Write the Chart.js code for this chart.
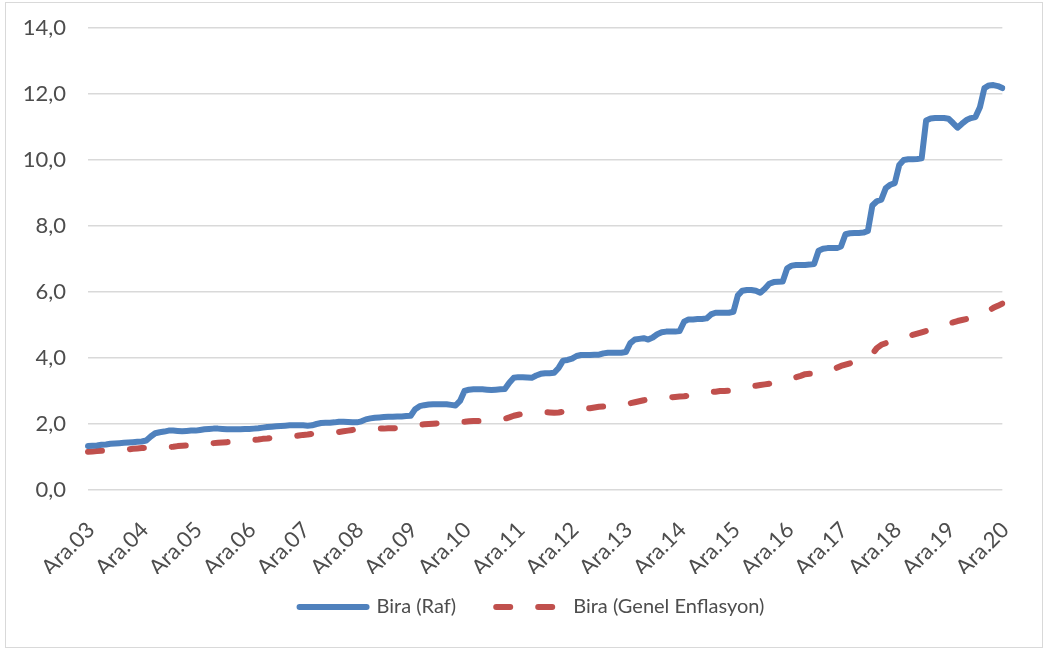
<!DOCTYPE html>
<html>
<head>
<meta charset="utf-8">
<script src="https://cdn.jsdelivr.net/npm/chart.js@4"></script>
<style>
  html, body { margin: 0; padding: 0; background: #fff; }
  #wrap { position: relative; width: 1048px; height: 650px; }
  #frame { position: absolute; left: 5px; top: 2px; width: 1036px; height: 644px; border: 1px solid #d9d9d9; }
  canvas { position: absolute; left: 0; top: 0; }
</style>
</head>
<body>
<div id="wrap">
  <div id="frame"></div>
  <canvas id="c" width="1048" height="650"></canvas>
</div>
<script>
// Month names (Turkish) and the tick labels of the monthly series (Ara.03 .. Ara.20)
const monthNames = ['Oca','Şub','Mar','Nis','May','Haz','Tem','Ağu','Eyl','Eki','Kas','Ara'];
const tickLabels = ['Ara.03','Ara.04','Ara.05','Ara.06','Ara.07','Ara.08','Ara.09','Ara.10','Ara.11',
                    'Ara.12','Ara.13','Ara.14','Ara.15','Ara.16','Ara.17','Ara.18','Ara.19','Ara.20'];

// Bira (Raf) — monthly, Dec 2003 .. Dec 2020
const biraRaf = [
  1.33,1.34,1.35,1.37,1.38,1.40,1.41,1.42,1.43,1.44,1.45,1.46,1.47,
  1.50,1.62,1.72,1.75,1.77,1.80,1.80,1.79,1.78,1.79,1.80,1.80,
  1.82,1.84,1.85,1.86,1.86,1.85,1.84,1.84,1.84,1.84,1.85,1.85,
  1.86,1.87,1.89,1.91,1.92,1.93,1.94,1.95,1.96,1.96,1.96,1.96,
  1.95,1.96,2.00,2.03,2.04,2.04,2.05,2.07,2.07,2.06,2.05,2.05,
  2.08,2.14,2.17,2.19,2.20,2.21,2.22,2.22,2.23,2.23,2.24,2.25,
  2.45,2.54,2.57,2.59,2.60,2.60,2.60,2.60,2.58,2.56,2.70,3.00,
  3.04,3.05,3.05,3.05,3.04,3.03,3.04,3.05,3.06,3.25,3.40,3.42,
  3.42,3.41,3.40,3.47,3.52,3.54,3.54,3.55,3.70,3.92,3.94,3.98,
  4.06,4.09,4.09,4.09,4.10,4.10,4.14,4.16,4.16,4.16,4.16,4.18,
  4.45,4.56,4.58,4.60,4.56,4.62,4.72,4.78,4.80,4.80,4.80,4.82,
  5.10,5.17,5.17,5.18,5.18,5.20,5.32,5.37,5.37,5.37,5.37,5.40,
  5.90,6.04,6.06,6.06,6.04,5.98,6.10,6.25,6.30,6.31,6.32,6.72,
  6.80,6.82,6.82,6.82,6.83,6.85,7.25,7.31,7.33,7.33,7.33,7.38,
  7.75,7.78,7.79,7.79,7.80,7.85,8.62,8.75,8.80,9.15,9.25,9.30,
  9.85,10.00,10.02,10.02,10.03,10.05,11.20,11.26,11.27,11.27,11.27,11.25,
  11.12,10.98,11.10,11.21,11.27,11.30,11.60,12.18,12.26,12.27,12.24,12.18
];

// Bira (Genel Enflasyon) — monthly, Dec 2003 .. Dec 2020
const biraEnflasyon = [
  1.16,1.17,1.18,1.19,1.19,1.20,1.21,1.22,1.22,1.23,1.25,1.26,1.27,
  1.28,1.28,1.29,1.29,1.29,1.30,1.31,1.33,1.34,1.35,1.36,1.37,
  1.38,1.39,1.41,1.42,1.43,1.44,1.45,1.46,1.47,1.48,1.49,1.51,
  1.52,1.53,1.55,1.56,1.58,1.59,1.60,1.61,1.62,1.63,1.65,1.67,
  1.68,1.70,1.71,1.72,1.73,1.74,1.75,1.76,1.78,1.80,1.82,1.84,
  1.85,1.86,1.86,1.86,1.86,1.86,1.87,1.87,1.88,1.90,1.92,1.94,
  1.96,1.98,1.99,2.00,2.01,2.02,2.03,2.04,2.05,2.06,2.07,2.07,
  2.08,2.09,2.09,2.10,2.11,2.12,2.13,2.14,2.16,2.20,2.25,2.28,
  2.31,2.33,2.34,2.35,2.36,2.36,2.35,2.34,2.35,2.37,2.40,2.42,
  2.44,2.46,2.47,2.48,2.50,2.52,2.53,2.54,2.55,2.56,2.58,2.60,
  2.63,2.66,2.69,2.72,2.75,2.77,2.78,2.79,2.80,2.81,2.82,2.83,
  2.84,2.86,2.88,2.91,2.94,2.96,2.97,2.98,3.00,3.00,3.01,3.03,
  3.06,3.09,3.12,3.14,3.16,3.18,3.20,3.22,3.24,3.26,3.29,3.32,
  3.37,3.42,3.46,3.51,3.52,3.52,3.54,3.55,3.58,3.63,3.70,3.76,
  3.80,3.84,3.88,3.92,3.97,4.06,4.12,4.30,4.40,4.45,4.48,4.50,
  4.55,4.60,4.65,4.70,4.74,4.78,4.82,4.87,4.92,4.97,5.00,5.04,
  5.08,5.12,5.15,5.18,5.21,5.26,5.31,5.38,5.44,5.52,5.58,5.65
];

// Monthly category labels (Ara.03, Oca.04, ...)
const categories = [];
for (let i = 0; i < biraRaf.length; i++) {
  const y = 3 + Math.floor((i + 11) / 12);
  const m = monthNames[(i + 11) % 12];
  categories.push(m + '.' + String(y).padStart(2, '0'));
}

const FONT = 'Lato, "Open Sans", sans-serif';
const TXT = '#4d4d4d';

// Nudge the legend box to the reference position
const shiftLegend = {
  id: 'shiftLegend',
  afterLayout(chart) {
    const l = chart.legend;
    if (l) { l.left += 27; l.right += 27; l.top -= 17; l.bottom -= 17; }
  }
};

new Chart(document.getElementById('c'), {
  type: 'line',
  data: {
    labels: categories,
    datasets: [
      {
        label: 'Bira (Raf)',
        data: biraRaf,
        borderColor: '#4F81BD',
        backgroundColor: '#4F81BD',
        borderWidth: 6,
        borderCapStyle: 'round',
        borderJoinStyle: 'round',
        pointRadius: 0,
        tension: 0
      },
      {
        label: 'Bira (Genel Enflasyon)',
        data: biraEnflasyon,
        borderColor: '#C0504D',
        backgroundColor: '#C0504D',
        borderWidth: 6,
        borderDash: [14, 28],
        borderCapStyle: 'round',
        borderJoinStyle: 'round',
        pointRadius: 0,
        tension: 0
      }
    ]
  },
  options: {
    responsive: false,
    animation: false,
    devicePixelRatio: 1,
    layout: { padding: { left: 0, right: 38, top: 28, bottom: 6 } },
    plugins: {
      legend: {
        position: 'bottom',
        labels: {
          usePointStyle: true,
          pointStyle: 'line',
          pointStyleWidth: 67,
          padding: 40,
          color: TXT,
          font: { family: FONT, size: 20 },
          generateLabels: function (chart) {
            const items = Chart.defaults.plugins.legend.labels.generateLabels(chart);
            items.forEach(function (it) {
              const ds = chart.data.datasets[it.datasetIndex];
              it.lineDash = ds.borderDash || [];
              it.lineCap = 'round';
              it.lineWidth = 6;
            });
            return items;
          }
        }
      },
      tooltip: { enabled: false }
    },
    scales: {
      x: {
        type: 'category',
        offset: false,
        grid: { display: false, drawTicks: false },
        border: { display: false },
        ticks: {
          autoSkip: false,
          maxRotation: 45,
          minRotation: 45,
          padding: 27,
          labelOffset: 3,
          color: TXT,
          font: { family: FONT, size: 22 },
          callback: function (v, i) { return i % 12 === 0 ? tickLabels[i / 12] : ''; }
        },
        afterFit: function (s) { s.height = 84; }
      },
      y: {
        min: 0,
        max: 14,
        grid: { color: '#d9d9d9', lineWidth: 1.5, drawTicks: false },
        border: { display: false },
        ticks: {
          stepSize: 2,
          padding: 22,
          color: TXT,
          font: { family: FONT, size: 22 },
          callback: function (v) { return v.toFixed(1).replace('.', ','); }
        },
        afterFit: function (s) { s.width = 88; s.paddingTop = 0; s.paddingBottom = 0; }
      }
    }
  },
  plugins: [shiftLegend]
});
</script>
</body>
</html>
